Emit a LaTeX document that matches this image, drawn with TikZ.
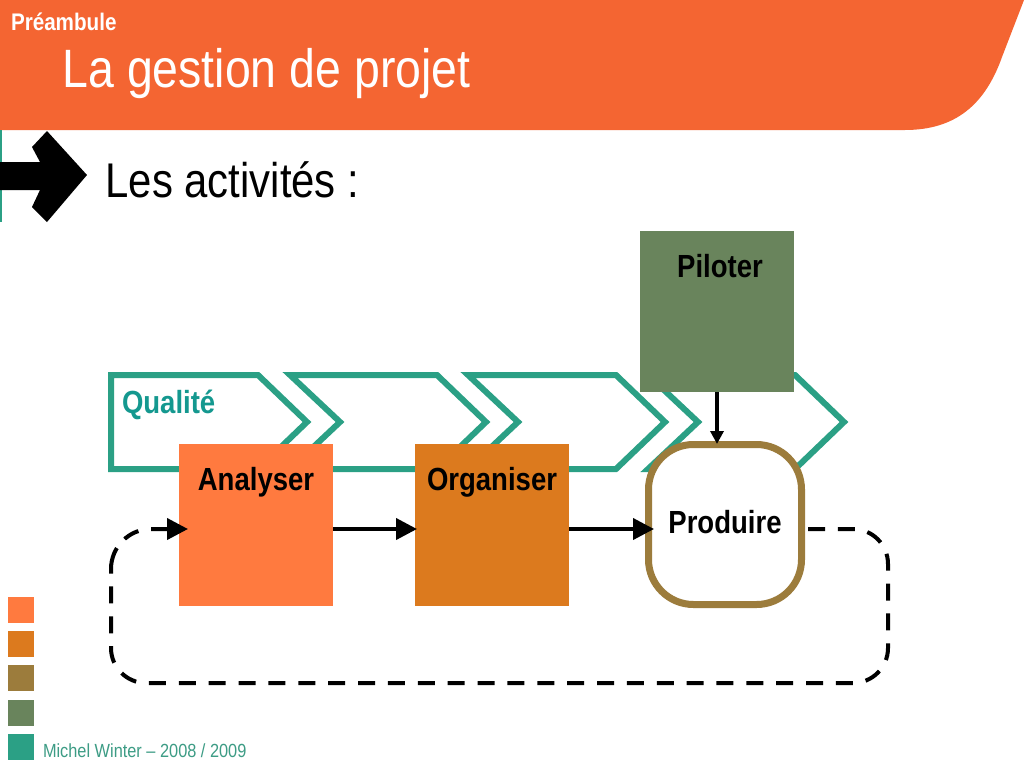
\documentclass[tikz,border=0pt]{standalone}
\usepackage{fontspec}
\usetikzlibrary{arrows.meta}
\setmainfont{Liberation Sans}
\newfontfamily\condreg[FakeStretch=0.86]{Liberation Sans}
\newfontfamily\condbold[FakeStretch=0.86]{Liberation Sans Bold}
\definecolor{hdr}{HTML}{F46532}
\definecolor{orA}{HTML}{FF7A3F}
\definecolor{orB}{HTML}{DC7A1E}
\definecolor{brn}{HTML}{9C7C3C}
\definecolor{grn}{HTML}{69845C}
\definecolor{tl}{HTML}{2BA085}
\definecolor{qual}{HTML}{14988F}
\definecolor{foot}{HTML}{3D9C85}
\tikzset{
  x=1pt,y=-1pt,
  txt/.style={anchor=base west,inner sep=0pt,outer sep=0pt},
  chev/.style={draw=tl,line width=6pt,miter limit=10},
  actbox/.style={inner sep=0pt,outer sep=0pt,minimum width=154pt,minimum height=162pt,font=\condbold\fontsize{32}{32}\selectfont,text=black},
  legend/.style={inner sep=0pt,outer sep=0pt,minimum width=26pt,minimum height=26pt,anchor=north west},
  flow/.style={line width=4pt,draw=black,-{Triangle[length=21pt,width=21pt]}},
  feedback/.style={line width=4pt,draw=black,dash pattern=on 17pt off 12.87pt,rounded corners=35pt},
  feedbackend/.style={flow,dash pattern=on 25pt off 12pt on 16pt off 13pt on 16pt off 100pt,rounded corners=40pt},
}
\begin{document}
\begin{tikzpicture}
\useasboundingbox (0,0) rectangle (1024,768);
\fill[white] (0,0) rectangle (1024,768);
% header
\fill[hdr] (0,0) -- (1024,0) -- (1002,57) .. controls (985,105) and (955,130) .. (905,130) -- (0,130) -- cycle;
\node[txt,text=white,font=\condbold\fontsize{24}{24}\selectfont] (pre) at (11,30.5) {Préambule};
\node[txt,text=white,font=\condreg\fontsize{54}{54}\selectfont] (title) at (62.5,87.5) {La gestion de projet};
% bullet arrow
\fill[tl] (0,130) rectangle (1.5,222);
\fill[black] (0,162) -- (40,162) -- (32,147) -- (47,131) -- (87,175) -- (47,222) -- (32,207) -- (40,190) -- (0,190) -- cycle;
\node[txt,text=black,font=\condreg\fontsize{48.7}{49}\selectfont] (sub) at (105.5,197) {Les activités :};
% chevrons
\draw[chev] (111,375) -- (258,375) -- (307,422) -- (258,469) -- (111,469) -- cycle;
\draw[chev] (290,375) -- (437,375) -- (486,422) -- (437,469) -- (290,469) -- (340,422) -- cycle;
\draw[chev] (468,375) -- (616,375) -- (665,422) -- (616,469) -- (468,469) -- (518,422) -- cycle;
\draw[chev] (648,375) -- (795,375) -- (844,422) -- (795,469) -- (648,469) -- (698,422) -- cycle;
\node[txt,text=qual,font=\condbold\fontsize{32}{32}\selectfont] (qualite) at (122,413.5) {Qualité};
% boxes
\node[actbox,fill=orA] (analyser) at (256,525) {\smash{\raisebox{34.5pt}{Analyser}}};
\node[actbox,fill=orB] (organiser) at (492,525) {\smash{\raisebox{34.5pt}{Organiser}}};
\node[actbox,fill=grn,minimum height=161pt] (piloter) at (717,311.5) {\smash{\raisebox{34.5pt}{\hspace{6pt}Piloter}}};
\node[actbox,draw=brn,fill=white,line width=7pt,outer sep=3.5pt,minimum width=153pt,minimum height=160pt,rounded corners=45pt] (produire) at (725,524.5) {\smash{\raisebox{-8.5pt}{Produire}}};
% connectors
\coordinate (fb) at (0,529);
\coordinate (fbturn) at (111,572);
\draw[flow,shorten >=-2pt] (analyser.east |- fb) -- (organiser.west |- fb);
\draw[flow,shorten >=-9pt] (organiser.east |- fb) -- (produire.west |- fb);
\draw[line width=4pt,draw=black,-{Triangle[length=13pt,width=13pt]},shorten >=-3pt] (piloter.south) -- (piloter.south |- produire.north);
\draw[feedback,shorten <=3pt] (produire.east |- fb) -- (888,529) -- (888,683) -- (111,683) -- (fbturn);
\draw[feedbackend,shorten >=-9pt] (fbturn) -- (fbturn |- fb) -- (analyser.west |- fb);
% legend
\node[legend,fill=orA] (l1) at (8,597) {};
\node[legend,fill=orB] (l2) at (8,631) {};
\node[legend,fill=brn] (l3) at (8,665) {};
\node[legend,fill=grn] (l4) at (8,699.5) {};
\node[legend,fill=tl] (l5) at (8,733.5) {};
\node[txt,text=foot,font=\condreg\fontsize{19}{19}\selectfont] (footer) at (43,757) {Michel Winter – 2008 / 2009};
\end{tikzpicture}
\end{document}
